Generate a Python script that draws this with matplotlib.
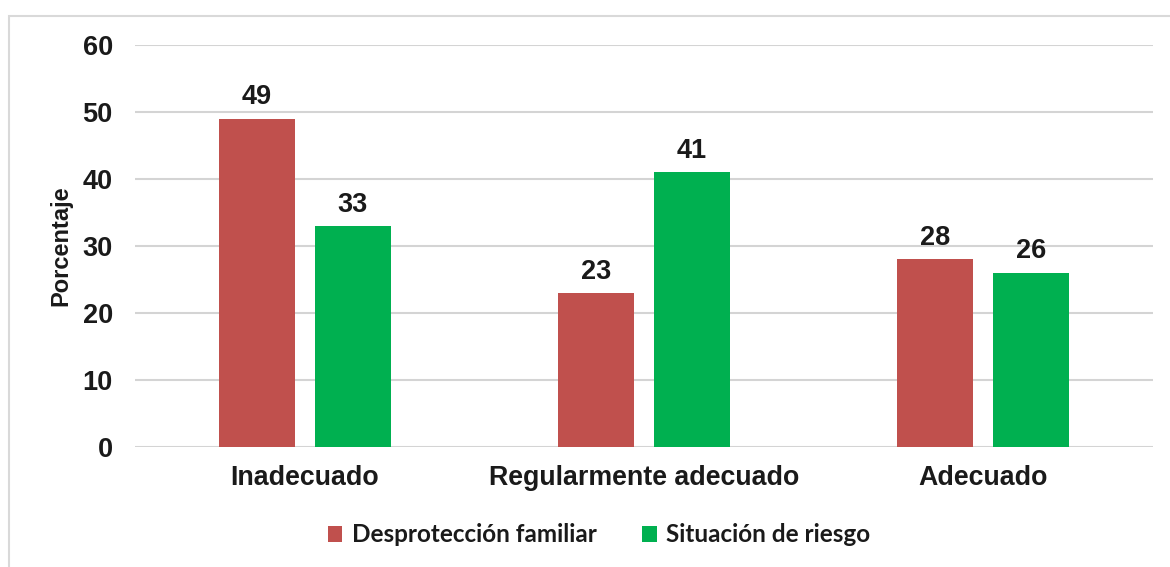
import matplotlib.pyplot as plt
import matplotlib.patches as mpatches
import numpy as np

categories = ["Inadecuado", "Regularmente adecuado", "Adecuado"]
desproteccion = [49, 23, 28]
situacion = [33, 41, 26]
series_names = ["Desprotección familiar", "Situación de riesgo"]

plt.rcParams['font.family'] = ['Liberation Sans', 'DejaVu Sans']

fig = plt.figure(figsize=(11.7, 5.67), dpi=100)
ax = fig.add_axes([0.1154, 0.2116, 0.8701, 0.709])

# outer chart border (cut off at right/bottom like the reference)
fig.patches.append(mpatches.Rectangle((9 / 1170, -0.05), 1.2, 1 - 16 / 567 + 0.05,
                                      transform=fig.transFigure, fill=False,
                                      edgecolor='#d9d9d9', lw=1.5, zorder=0))

x = np.arange(len(categories))
bar_width = 0.224
offset = 0.1416

r1 = ax.bar(x - offset, desproteccion, width=bar_width, color='#C0504D', label=series_names[0], zorder=3)
r2 = ax.bar(x + offset, situacion, width=bar_width, color='#00B050', label=series_names[1], zorder=3)

for rects in (r1, r2):
    for rect in rects:
        h = rect.get_height()
        ax.annotate('{0:d}'.format(int(h)),
                    xy=(rect.get_x() + rect.get_width() / 2, h),
                    xytext=(0, 6), textcoords="offset points",
                    ha='center', va='bottom', fontsize=19.5, fontweight='bold', color='#1a1a1a')

ax.set_xlim(-0.5, 2.5)
ax.set_ylim(0, 60)
ax.set_yticks(range(0, 61, 10))
ax.yaxis.grid(True, color='#d4d4d4', lw=1.5, zorder=0)
ax.set_axisbelow(True)
for s in ax.spines.values():
    s.set_visible(False)
ax.tick_params(length=0)
ax.tick_params(axis='y', pad=16)
ax.tick_params(axis='x', pad=13)
ax.set_xticks(x)
ax.set_xticklabels(categories, fontsize=19.3, fontweight='bold', color='#1a1a1a')
for lab in ax.get_yticklabels():
    lab.set_fontsize(19.5)
    lab.set_fontweight('bold')
    lab.set_color('#1a1a1a')

ax.set_ylabel('Porcentaje', fontsize=17, fontweight='bold', color='#1a1a1a', labelpad=7)

leg = fig.legend(handles=[r1, r2], loc='center', bbox_to_anchor=(0.512, 1 - 535 / 567),
                 ncol=2, frameon=False, handlelength=0.6, handleheight=0.6,
                 handletextpad=0.4, columnspacing=1.87,
                 prop={'family': ['Lato', 'DejaVu Sans'], 'weight': 'bold', 'size': 17.5})
for t in leg.get_texts():
    t.set_color('#1a1a1a')

fig.savefig('out.png', dpi=100)
